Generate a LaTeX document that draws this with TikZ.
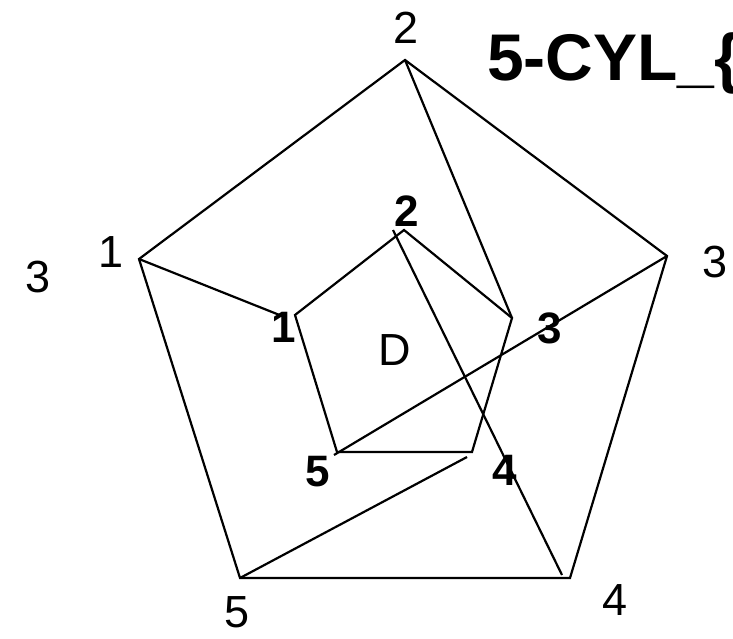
\documentclass[tikz,border=0pt]{standalone}
\usepackage{fontspec}
\setmainfont{Liberation Sans}
\begin{document}
\begin{tikzpicture}[x=1pt,y=-1pt,
  edge/.style={line width=2.2pt, line cap=butt, line join=miter},
  lab/.style={font=\fontsize{45}{45}\selectfont, inner sep=0pt},
  blab/.style={font=\fontsize{44}{44}\selectfont\bfseries, inner sep=0pt}]
\useasboundingbox (0,0) rectangle (733,639);
% outer pentagon
\coordinate (O2) at (405,60);
\coordinate (O3) at (667,256);
\coordinate (O4) at (570,578);
\coordinate (O5) at (240,578);
\coordinate (O1) at (139,259);
% inner pentagon
\coordinate (I2) at (404,230);
\coordinate (I3) at (512,318);
\coordinate (I4) at (472,452);
\coordinate (I5) at (337,452);
\coordinate (I1) at (295,315);
% free ends
\coordinate (E1) at (282,316);
\coordinate (E2) at (393,230);
\coordinate (E3) at (334,455);
\coordinate (E4) at (562,575);
\coordinate (E5) at (467,457);
\draw[edge] (O2) -- (O3) -- (O4) -- (O5) -- (O1) -- cycle;
\draw[edge] (I2) -- (I3) -- (I4) -- (I5) -- (I1) -- cycle;
\draw[edge] (O2) -- (I3);
\draw[edge] (O1) -- (E1);
\draw[edge] (O3) -- (E3);
\draw[edge] (E4) -- (E2);
\draw[edge] (O5) -- (E5);
% outer labels
\node[lab] (l2) at (406,28) {2};
\node[lab] (l1) at (111,252) {1};
\node[lab] (l3) at (715,262) {3};
\node[lab] (l3b) at (38,277) {3};
\node[lab] (l5) at (237,612) {5};
\node[lab] (l4) at (615,600) {4};
% inner labels
\node[blab] (b2) at (407,211) {2};
\node[blab] (b1) at (284,327) {1};
\node[blab] (b3) at (550,328) {3};
\node[blab] (b4) at (505,470) {4};
\node[blab] (b5) at (318,472) {5};
\node[lab] (d) at (395,350) {D};
\node[font=\fontsize{66}{66}\selectfont\bfseries, inner sep=0pt, anchor=base west] (title) at (487,81) {5-CYL\_\{};
\end{tikzpicture}
\end{document}
